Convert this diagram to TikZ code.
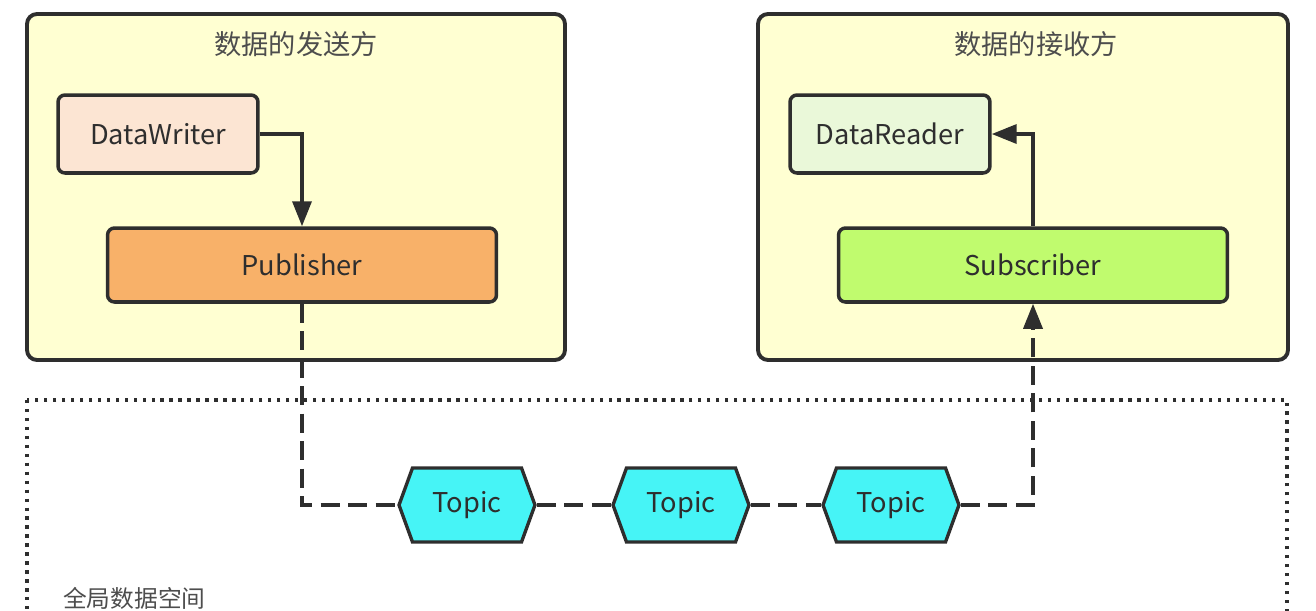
\documentclass[tikz,border=0pt]{standalone}
\usepackage{fontspec}
\setmainfont{Noto Sans CJK SC}
\usetikzlibrary{arrows.meta,shapes.symbols}

\definecolor{paneyellow}{HTML}{FFFFD2}
\definecolor{writerpeach}{HTML}{FCE5D3}
\definecolor{puborange}{HTML}{F8B169}
\definecolor{readergreen}{HTML}{EAF8D9}
\definecolor{subgreen}{HTML}{C0FB6E}
\definecolor{topiccyan}{HTML}{46F4F6}
\definecolor{edge}{HTML}{2E2E2E}

\begin{document}
\begin{tikzpicture}[x=0.02cm, y=-0.02cm]
\tikzstyle{pane}=[draw=edge, fill=paneyellow, line width=2.2pt, rounded corners=0.2cm]
\tikzstyle{small}=[draw=edge, line width=2pt, rounded corners=0.14cm, minimum width=4cm, minimum height=1.56cm, text=edge, font=\fontsize{15.5}{18}\selectfont]
\tikzstyle{wide}=[small, minimum width=7.78cm, minimum height=1.48cm]
\tikzstyle{topic}=[signal, signal to=east and west, signal pointer angle=140, draw=edge, fill=topiccyan, line width=1.9pt, minimum width=2.72cm, minimum height=1.48cm, inner sep=0pt, text=edge, font=\fontsize{15.5}{18}\selectfont]
\tikzstyle{flow}=[draw=edge, line width=2pt, -{Triangle[length=0.5cm, width=0.38cm]}]
\tikzstyle{link}=[draw=edge, line width=2.2pt, dash pattern=on 0.38cm off 0.17cm]
\tikzstyle{title}=[text=edge!85, font=\fontsize{15.5}{18}\selectfont]

\clip (0,0) rectangle (1316,610);

% Global data space
\draw [edge, line width=1.9pt, dash pattern=on 1.9pt off 3.2pt] (27,400) rectangle (1287,660);
\node at (57,598) [anchor=west, text=edge!85, font=\fontsize{13.5}{16}\selectfont] (space) {全局数据空间};

% Sender
\draw [pane] (27,14) rectangle (565,360);
\node at (296,44) [title] (sender) {数据的发送方};
\node at (158,134) [small, fill=writerpeach] (writer) {DataWriter};
\node at (302,265) [wide, fill=puborange] (publisher) {Publisher};

% Receiver
\draw [pane] (758,14) rectangle (1288,360);
\node at (1036,44) [title] (receiver) {数据的接收方};
\node at (890,134) [small, fill=readergreen] (reader) {DataReader};
\node at (1033,265) [wide, fill=subgreen] (subscriber) {Subscriber};

% Topics
\foreach \x/\px in {1/467,2/681,3/891}
\node at (\px,505) [topic] (topic_\x) {Topic};

% Writer -> Publisher, Subscriber -> Reader
\draw [flow] (writer.east) -| (publisher.north);
\draw [flow] (subscriber.north) |- (reader.east);

% Publisher -> Topics -> Subscriber
\draw [link] (publisher.south) |- (topic_1.west);
\draw [link] (topic_1.east) -- (topic_2.west);
\draw [link] (topic_2.east) -- (topic_3.west);
\draw [link] (topic_3.east) -| ([yshift=-0.5cm]subscriber.south);
\draw [flow] ([yshift=-0.5cm]subscriber.south) -- (subscriber.south);
\end{tikzpicture}
\end{document}
